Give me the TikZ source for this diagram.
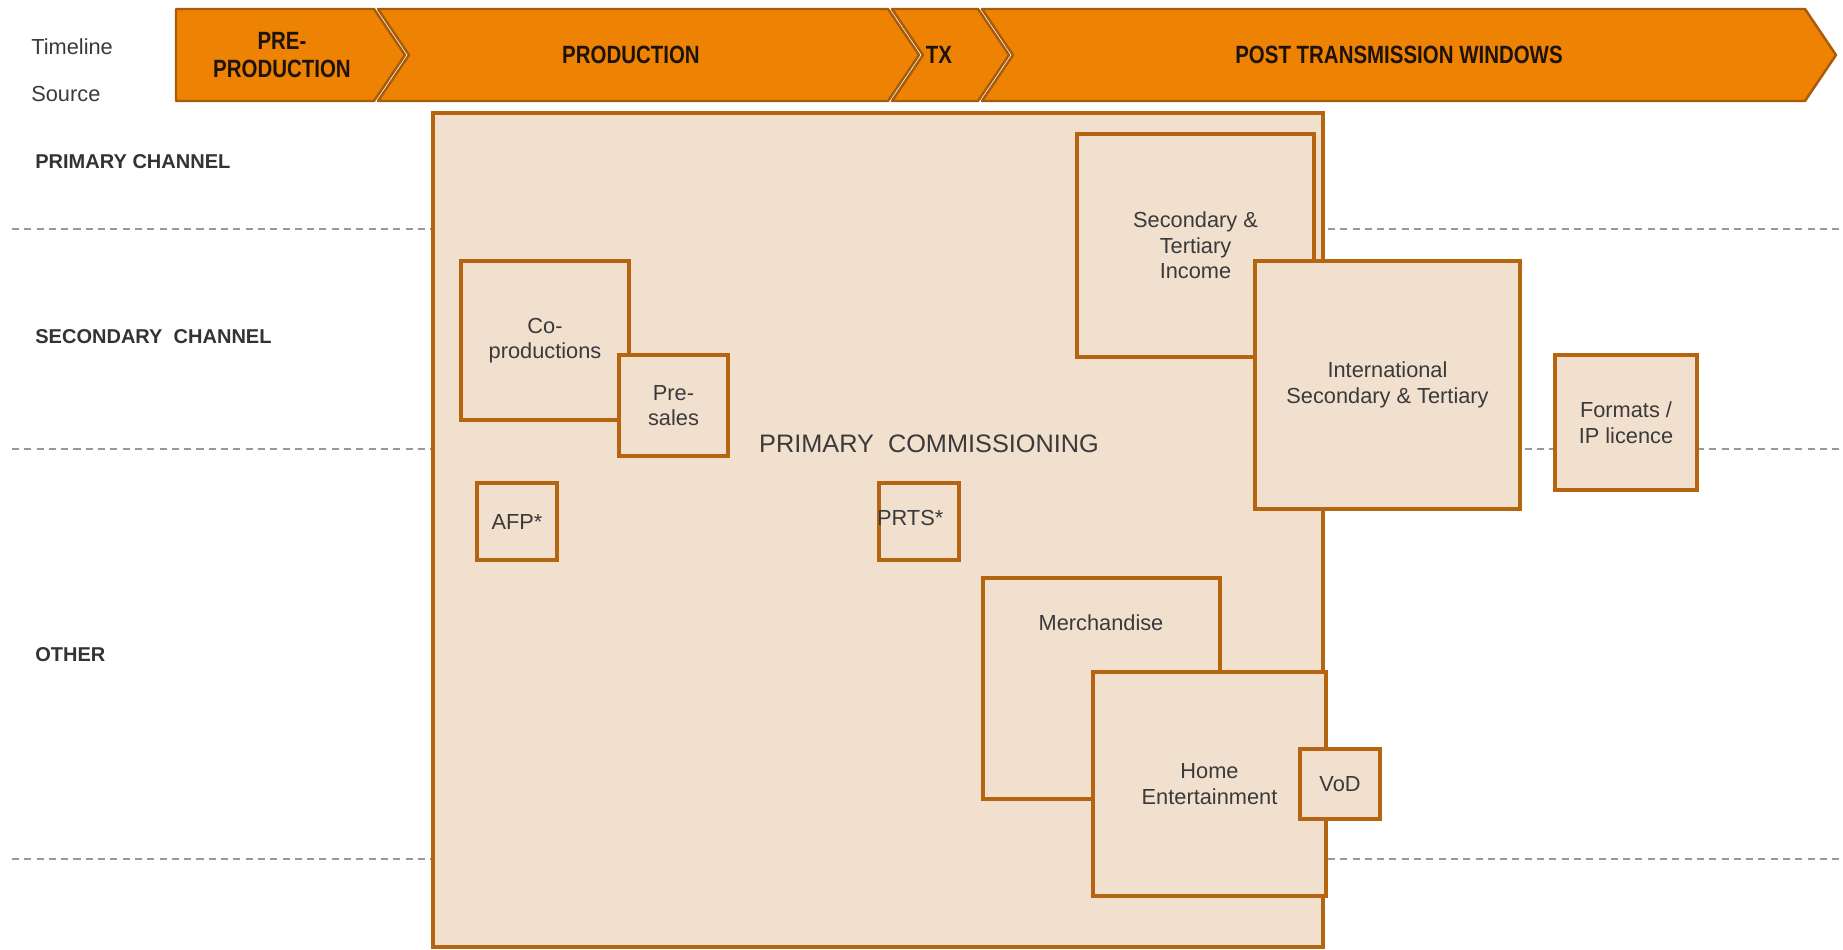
\documentclass[tikz,border=0pt]{standalone}
\usepackage{fontspec}
\setmainfont{Liberation Sans}
\newfontfamily\narrowfont[FakeStretch=0.82]{Liberation Sans}
\usetikzlibrary{positioning}
\definecolor{chevfill}{HTML}{EE8203}
\definecolor{chevline}{HTML}{A85C0A}
\definecolor{boxfill}{HTML}{F2E0CF}
\definecolor{boxline}{HTML}{B5640F}
\definecolor{bodytext}{HTML}{3A3A3A}

\begin{document}
\begin{tikzpicture}[
  x=0.02cm, y=-0.02cm,
  font=\fontsize{12.4}{14.6}\selectfont, text=bodytext,
  chev/.style={fill=chevfill, draw=chevline, line width=1.4pt, line join=round},
  ttl/.style={font=\narrowfont\bfseries\fontsize{14.2}{16}\selectfont, text=black!85!brown, align=center},
  box/.style={draw=boxline, fill=boxfill, line width=2.6pt, align=center, inner sep=2pt},
  lab/.style={anchor=west, inner sep=0pt},
  row/.style={lab, font=\bfseries\fontsize{11.4}{13}\selectfont, text=black!80},
  guide/.style={draw=black!40, line width=0.9pt, dash pattern=on 4pt off 3pt}
]
\useasboundingbox (0,0) rectangle (1843,950);

% timeline
\draw[chev] (176,9) -- (374,9) -- (405,55) -- (374,101) -- (176,101) -- cycle;
\draw[chev] (378,9) -- (888,9) -- (919,55) -- (888,101) -- (378,101) -- (409,55) -- cycle;
\draw[chev] (892,9) -- (978,9) -- (1009,55) -- (978,101) -- (892,101) -- (923,55) -- cycle;
\draw[chev] (982,9) -- (1805,9) -- (1836,55) -- (1805,101) -- (982,101) -- (1013,55) -- cycle;
\node[ttl] (pre) at (282,55) {PRE-\\PRODUCTION};
\node[ttl] (prod) at (631,55) {PRODUCTION};
\node[ttl] (tx) at (939,55) {TX};
\node[ttl] (post) at (1399,55) {POST TRANSMISSION WINDOWS};

% row labels
\node[lab] (tl) at (31,47) {Timeline};
\node[lab] (src) at (31,94) {Source};
\node[row] (pc) at (35,162) {PRIMARY CHANNEL};
\node[row] (sc) at (35,337) {SECONDARY\ \ CHANNEL};
\node[row] (oth) at (35,655) {OTHER};

\draw[guide] (12,229) -- (1843,229);
\draw[guide] (12,449) -- (1843,449);
\draw[guide] (12,859) -- (1843,859);

% commissioning area
\node[box, minimum width=17.8cm, minimum height=16.68cm] (prim) at (878,530) {};
\node[font=\fontsize{14.4}{16}\selectfont] (pcm) at (929,444) {PRIMARY\ \ COMMISSIONING};

\node[box, minimum width=4.74cm, minimum height=4.46cm] (sti) at (1195.5,245.5) {Secondary \&\\Tertiary\\Income};
\node[box, minimum width=5.3cm, minimum height=4.96cm] (intl) at (1387.5,385) {International\\Secondary \& Tertiary};
\node[box, minimum width=2.84cm, minimum height=2.7cm] (fmt) at (1626,422.5) {Formats /\\IP licence};

\node[box, minimum width=3.36cm, minimum height=3.18cm] (cop) at (545,340.5) {Co-\\productions};
\node[box, minimum width=2.18cm, minimum height=2.02cm] (pres) at (673.5,405.5) {Pre-\\sales};
\node[box, minimum width=1.6cm, minimum height=1.54cm] (afp) at (517,521.5) {AFP*};
\node[box, minimum width=1.6cm, minimum height=1.54cm] (prts) at (919,521.5) {};
\node[lab] (prtstxt) at ([yshift=0.08cm]prts.west) {PRTS*};

\node[box, minimum width=4.74cm, minimum height=4.42cm] (merch) at (1101.5,688.5) {};
\node (merchtxt) at (1101,623) {Merchandise};
\node[box, minimum width=4.66cm, minimum height=4.48cm] (home) at (1209.5,784) {Home\\Entertainment};
\node[box, minimum width=1.6cm, minimum height=1.4cm] (vod) at (1340,784) {VoD};
\end{tikzpicture}
\end{document}
